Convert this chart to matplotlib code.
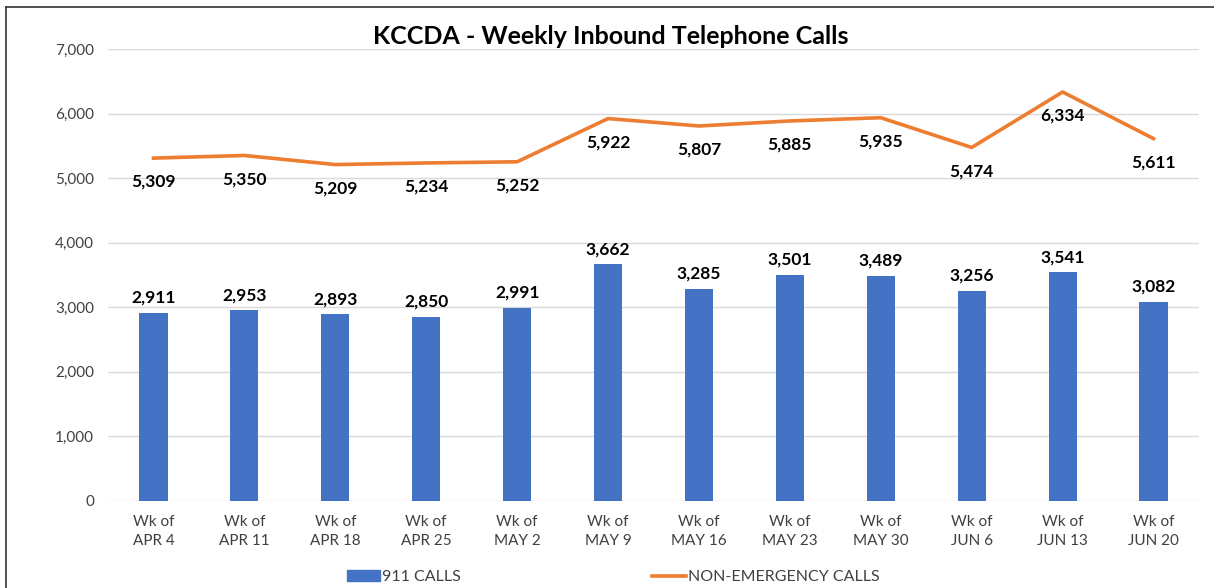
import numpy as np
import matplotlib.pyplot as plt
from matplotlib.lines import Line2D
from matplotlib.patches import Patch

weeks = ['Wk of\nAPR 4', 'Wk of\nAPR 11', 'Wk of\nAPR 18', 'Wk of\nAPR 25', 'Wk of\nMAY 2',
         'Wk of\nMAY 9', 'Wk of\nMAY 16', 'Wk of\nMAY 23', 'Wk of\nMAY 30', 'Wk of\nJUN 6',
         'Wk of\nJUN 13', 'Wk of\nJUN 20']
calls_911 = [2911, 2953, 2893, 2850, 2991, 3662, 3285, 3501, 3489, 3256, 3541, 3082]
calls_non_emerg = [5309, 5350, 5209, 5234, 5252, 5922, 5807, 5885, 5935, 5474, 6334, 5611]
yticks = [0, 1000, 2000, 3000, 4000, 5000, 6000, 7000]

blue = '#4472C4'
orange = '#ED7D31'
txt = '#404040'

plt.rcParams['font.family'] = ['Lato', 'DejaVu Sans']

fig = plt.figure(figsize=(12.14, 5.88), dpi=100)
ax = fig.add_axes([108 / 1214, 1 - 500.7 / 588, 1091 / 1214, 451.7 / 588])

x = np.arange(len(weeks))
ax.bar(x, calls_911, width=0.31, color=blue, zorder=2)
ax.plot(x, calls_non_emerg, color=orange, lw=2.6, zorder=3)

for xi, v in zip(x, calls_911):
    ax.annotate(f'{v:,}', (xi, v), xytext=(0, 5), textcoords='offset points',
                ha='center', va='bottom', fontsize=12.5, fontweight='bold', color='black')
for xi, v in zip(x, calls_non_emerg):
    ax.annotate(f'{v:,}', (xi, v), xytext=(0, -17), textcoords='offset points',
                ha='center', va='center', fontsize=12.5, fontweight='bold', color='black')

ax.set_xlim(-0.5, len(weeks) - 0.5)
ax.set_ylim(0, 7000)
ax.set_yticks(yticks)
ax.set_yticklabels([f'{t:,}' for t in yticks])
ax.set_xticks(x)
ax.set_xticklabels(weeks, linespacing=1.5)
ax.tick_params(axis='both', length=0, labelsize=11, labelcolor=txt)
ax.tick_params(axis='y', pad=10)
ax.tick_params(axis='x', pad=10)
ax.grid(axis='y', color='#D9D9D9', lw=1, zorder=0)
for s in ax.spines.values():
    s.set_visible(False)

fig.text(0.503, 1 - 37 / 588, 'KCCDA - Weekly Inbound Telephone Calls',
         ha='center', va='center', fontsize=18, fontweight='bold', color='black')

handles = [Patch(color=blue), Line2D([], [], color=orange, lw=2.6)]
fig.legend(handles, ['911 CALLS', 'NON-EMERGENCY CALLS'], loc='center',
           bbox_to_anchor=(0.505, 1 - 577 / 588), ncol=2, frameon=False,
           fontsize=11.5, handlelength=2.1, handletextpad=0.1, columnspacing=12.0,
           labelcolor=txt)

# outer frame (left and top edges visible)
fig.add_artist(Line2D([6 / 1214, 6 / 1214], [0, 1 - 7 / 588], color='#333333', lw=1.2))
fig.add_artist(Line2D([6 / 1214, 1], [1 - 7 / 588, 1 - 7 / 588], color='#333333', lw=1.2))

fig.savefig('out.png', dpi=100)
